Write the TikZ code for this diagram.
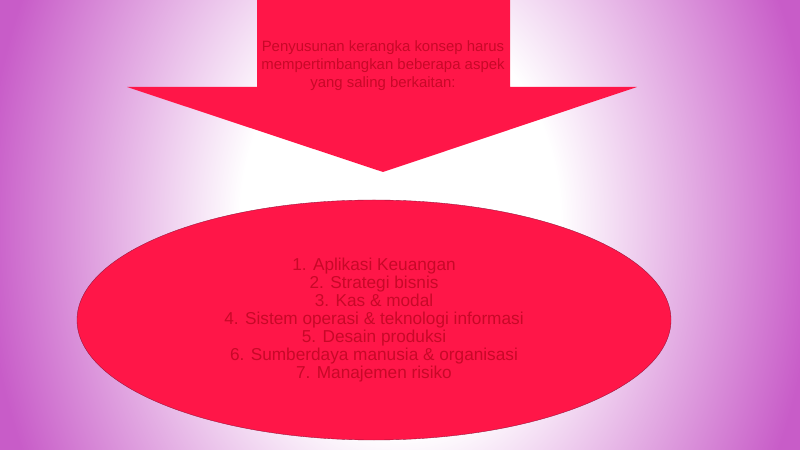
\documentclass[tikz,border=0pt]{standalone}
\usepackage{fontspec}
\setmainfont{Liberation Sans}
\usetikzlibrary{shapes.geometric,positioning,calc}
\definecolor{shapered}{RGB}{255,22,72}
\definecolor{textred}{RGB}{200,8,40}
\definecolor{edgered}{RGB}{150,20,60}
\definecolor{bgviolet}{RGB}{200,92,200}
\pgfdeclareradialshading{bgglow}{\pgfpoint{0bp}{0bp}}{%
    color(0bp)=(white); color(10bp)=(white); color(26bp)=(bgviolet); color(50bp)=(bgviolet)}
\tikzset{
    block/.style={
        fill=shapered,
        draw=none,
    },
    oval/.style={
        ellipse,
        fill=shapered,
        draw=edgered,
        very thin,
        minimum width=11.88cm,
        minimum height=4.8cm,
    },
    label-text/.style={
        text=textred,
        align=center,
        font=\fontsize{8.5}{10.2}\selectfont,
    },
}

\begin{document}
\begin{tikzpicture}
    \useasboundingbox (0,0) rectangle (16,8.98);
    \begin{scope}
        \clip (0,0) rectangle (16,8.98);
        \shade[shading=bgglow] (0,-6) rectangle (16,15);
    \end{scope}

    \coordinate (sl) at (5.14,8.98);
    \coordinate (sr) at (10.2,8.98);
    \coordinate (tip) at (7.66,5.54);
    \fill[block] (sl) -- (sr) -- (10.2,7.24) -- (12.74,7.24) -- (tip) -- (2.54,7.24) -- (5.14,7.24) -- cycle;
    \node [label-text] (intro) at (7.66,7.66) {Penyusunan kerangka konsep harus\\mempertimbangkan beberapa aspek\\yang saling berkaitan:};

    \node [oval] (aspek) at (7.48,2.58) {};
    \node [label-text, font=\fontsize{9.8}{10.2}\selectfont] (list) at (aspek.center) {1. Aplikasi Keuangan\\2. Strategi bisnis\\3. Kas \& modal\\4. Sistem operasi \& teknologi informasi\\5. Desain produksi\\6. Sumberdaya manusia \& organisasi\\7. Manajemen risiko};
\end{tikzpicture}
\end{document}
